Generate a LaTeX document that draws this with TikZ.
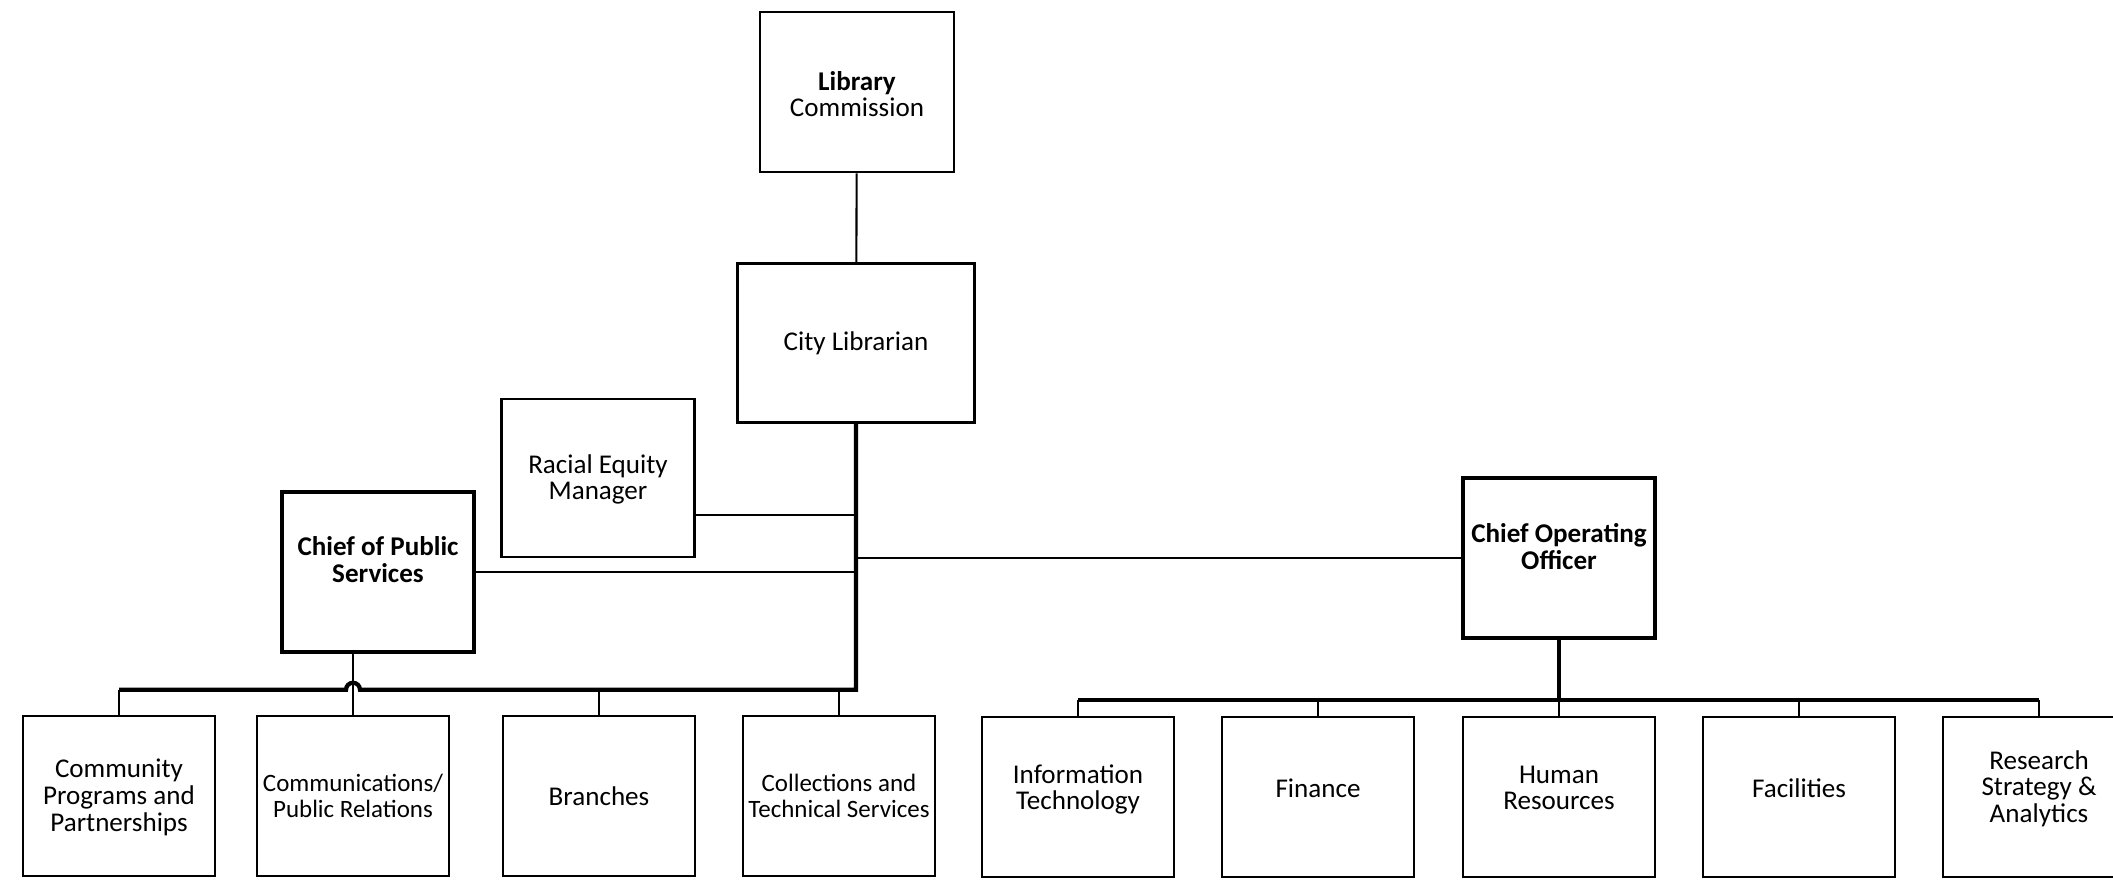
\documentclass[tikz,border=0pt]{standalone}
\usepackage{fontspec}
\setmainfont{Carlito}
\usetikzlibrary{calc}
\newcommand\liftup[2]{\raisebox{#1}[\height][\depth]{\begin{tabular}{@{}c@{}}#2\end{tabular}}}

\begin{document}
\begin{tikzpicture}[x=0.01cm,y=-0.01cm,
        box/.style={draw,line width=0.7pt,minimum width=1.92cm,minimum height=1.6cm,
            align=center,inner sep=1pt,font=\fontsize{7.7}{7.4}\selectfont},
        chief/.style={box,line width=1.2pt,font=\fontsize{7.7}{7.4}\selectfont\bfseries},
        link/.style={line width=0.6pt},
        trunk/.style={line width=1.2pt}]
        \useasboundingbox (0,0) rectangle (2113,879);

        \node[box,minimum width=1.94cm] (lc) at (857,92) {\liftup{-1.7pt}{\textbf{Library}\\Commission}};
        \node[box,minimum width=2.37cm,minimum height=1.59cm] (cl) at (856,343) {City Librarian};
        \node[box,minimum width=1.93cm,minimum height=1.58cm] (rem) at (598,478) {\liftup{-0.9pt}{Racial Equity\\Manager}};
        \node[chief] (cps) at (378,572) {\liftup{2.5pt}{Chief of Public\\Services}};
        \node[chief] (coo) at (1559,558) {\liftup{2.1pt}{Chief Operating\\Officer}};

        \node[box] (cpp) at (119,796) {\liftup{-0.9pt}{Community\\Programs and\\Partnerships}};
        \node[box,font=\fontsize{7.1}{7.4}\selectfont] (pr) at (353,796) {Communications/\\Public Relations};
        \node[box] (br) at (599,796) {Branches};
        \node[box,font=\fontsize{7.1}{7.4}\selectfont] (cts) at (839,796) {Collections and\\Technical Services};

        \node[box] (it) at (1078,797) {\liftup{1.7pt}{Information\\Technology}};
        \node[box] (fin) at (1318,797) {\liftup{1.5pt}{Finance}};
        \node[box] (hr) at (1559,797) {\liftup{1.7pt}{Human\\Resources}};
        \node[box] (fac) at (1799,797) {\liftup{1.5pt}{Facilities}};
        \node[box] (rsa) at (2039,797) {\liftup{1.9pt}{Research\\Strategy \&\\Analytics}};

        \coordinate (lbus) at ($(cl.south)+(0,266)$);
        \coordinate (rbus) at ($(coo.south)+(0,60)$);

        \draw[link] (lc) -- (cl);
        \draw[trunk] (cl.south) -- (lbus) -- ($(lbus -| pr.north)+(7,0)$)
            arc[start angle=0,end angle=-180,radius=7] -- (lbus -| cpp.north);
        \draw[link] (lbus -| cpp.north) -- (cpp.north);
        \draw[link] (cps.south -| pr.north) -- (pr.north);
        \draw[link] (lbus -| br.north) -- (br.north);
        \draw[link] (lbus -| cts.north) -- (cts.north);

        \draw[link] ($(rem.east)+(0,37)$) coordinate (remout) -- (remout -| cl.south);
        \draw[link] (cps.east) -- (cps.east -| cl.south);
        \draw[link] (coo.west) -- (coo.west -| cl.south);

        \draw[trunk] (coo.south) -- (rbus);
        \draw[trunk] (rbus -| it.north) -- (rbus -| rsa.north);
        \foreach \u in {it,fin,hr,fac,rsa}
            \draw[link] (rbus -| \u.north) -- (\u.north);
    \end{tikzpicture}
\end{document}
